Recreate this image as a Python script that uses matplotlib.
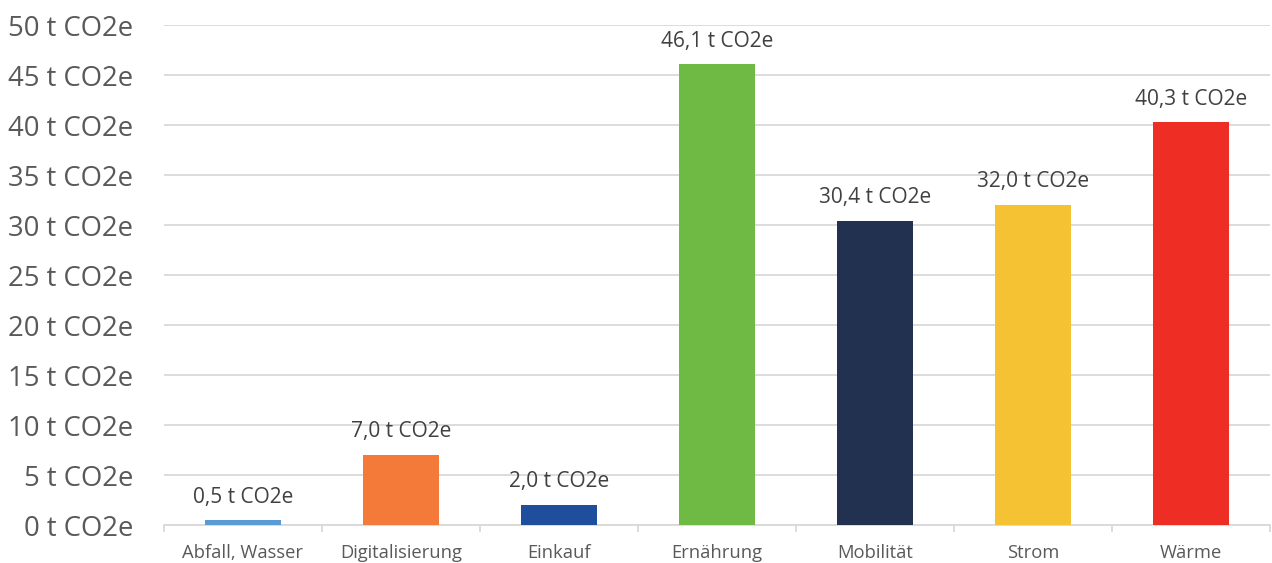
import matplotlib
matplotlib.use("Agg")
import matplotlib.pyplot as plt
from matplotlib.ticker import FixedLocator

plt.rcParams['font.family'] = ['Open Sans', 'DejaVu Sans']

categories = ["Abfall, Wasser", "Digitalisierung", "Einkauf", "Ernährung",
              "Mobilität", "Strom", "Wärme"]
values = [0.5, 7.0, 2.0, 46.1, 30.4, 32.0, 40.3]
colors = ["#5B9BD5", "#F47A3A", "#1F4E9C", "#6FBA44", "#22314F", "#F4C232", "#EE2D24"]
y_ticks = [0, 5, 10, 15, 20, 25, 30, 35, 40, 45, 50]

text_color = "#595959"
grid_color = "#D9D9D9"

fig = plt.figure(figsize=(12.72, 5.63), dpi=100)
ax = fig.add_axes([164 / 1272, 38 / 563, 1106 / 1272, 500 / 563])

x = list(range(len(categories)))
bars = ax.bar(x, values, width=0.475, color=colors, zorder=3)

for xi, v in zip(x, values):
    ax.annotate(f"{v:.1f} t CO2e".replace(".", ","), (xi, v),
                xytext=(0, 9), textcoords="offset points",
                ha="center", va="bottom", fontsize=15, color="#404040")

ax.set_xlim(-0.5, len(categories) - 0.5)
ax.set_ylim(0, 50)
ax.set_yticks(y_ticks)
ax.set_yticklabels([f"{t} t CO2e" for t in y_ticks])
ax.yaxis.grid(True, color=grid_color, linewidth=1.3, zorder=0)
ax.tick_params(axis="y", length=0, pad=22, labelsize=19.8, labelcolor=text_color)

ax.set_xticks(x)
ax.set_xticklabels(categories)
ax.tick_params(axis="x", which="major", length=0, pad=14, labelsize=13.2,
               labelcolor=text_color)
ax.xaxis.set_minor_locator(FixedLocator([i - 0.5 for i in range(len(categories) + 1)]))
ax.tick_params(axis="x", which="minor", length=5, width=1.3, color=grid_color)

for side in ["top", "right", "left"]:
    ax.spines[side].set_visible(False)
ax.spines["bottom"].set_color(grid_color)
ax.spines["bottom"].set_linewidth(1.3)

fig.savefig("out.png", dpi=100)
